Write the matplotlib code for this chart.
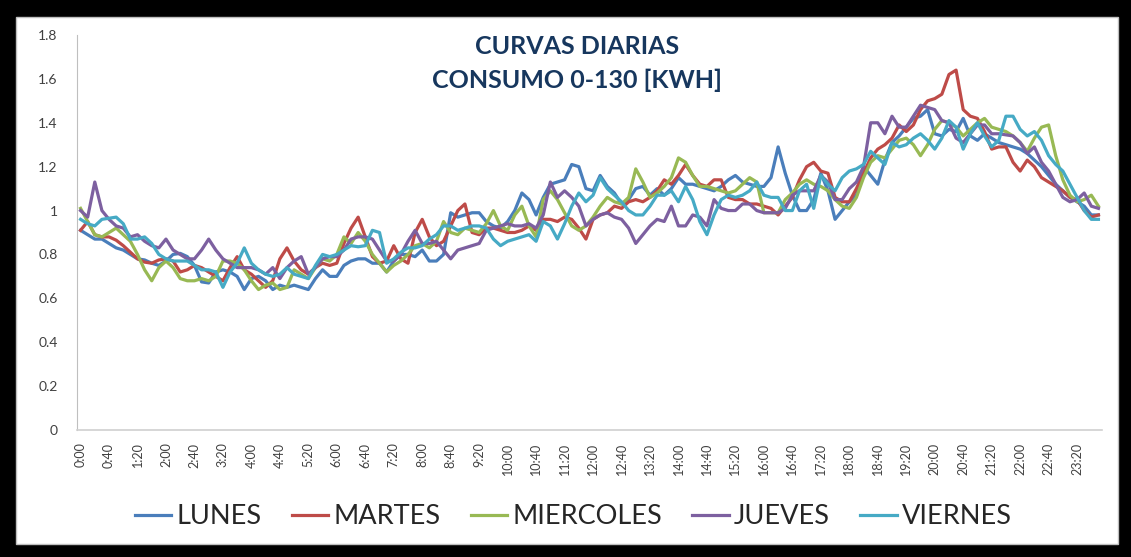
import matplotlib
matplotlib.use('Agg')
import matplotlib.pyplot as plt
from matplotlib.patches import Rectangle
import numpy as np

# Consumo cada 10 minutos (0:00 ... 23:50)
lunes = [0.91, 0.89, 0.87, 0.87, 0.85, 0.83, 0.82, 0.80, 0.78, 0.775, 0.76, 0.75, 0.77, 0.80, 0.805, 0.79, 0.75, 0.675, 0.67, 0.72, 0.73, 0.72, 0.70, 0.64, 0.69, 0.70, 0.68, 0.64, 0.66,
         0.65, 0.66, 0.65, 0.64, 0.69, 0.73, 0.70, 0.70, 0.75, 0.77, 0.78, 0.78, 0.76, 0.76, 0.72, 0.77, 0.80, 0.80, 0.79, 0.82, 0.77, 0.77, 0.80, 0.99, 0.97, 0.98, 0.99, 0.99, 0.95,
         0.93, 0.92, 0.95, 1.00, 1.08, 1.05, 0.98, 1.06, 1.12, 1.13, 1.14, 1.21, 1.20, 1.10, 1.09, 1.16, 1.11, 1.08, 1.03, 1.05, 1.10, 1.11, 1.07, 1.10, 1.07, 1.10, 1.15, 1.12, 1.12,
         1.11, 1.10, 1.09, 1.11, 1.14, 1.16, 1.13, 1.12, 1.11, 1.11, 1.15, 1.29, 1.17, 1.07, 1.00, 1.00, 1.05, 1.17, 1.09, 0.96, 1.00, 1.04, 1.07, 1.20, 1.16, 1.12, 1.23, 1.31, 1.34,
         1.38, 1.42, 1.43, 1.46, 1.35, 1.34, 1.37, 1.36, 1.42, 1.34, 1.32, 1.35, 1.33, 1.31, 1.30, 1.29, 1.28, 1.26, 1.23, 1.20, 1.16, 1.12, 1.09, 1.06, 1.04, 1.02, 0.98, 0.98]

martes = [0.91, 0.95, 0.89, 0.88, 0.88, 0.865, 0.84, 0.81, 0.78, 0.765, 0.76, 0.775, 0.78, 0.77, 0.72, 0.73, 0.75, 0.74, 0.72, 0.70, 0.68, 0.74, 0.79, 0.73, 0.71, 0.68, 0.65, 0.68, 0.78,
          0.83, 0.77, 0.73, 0.71, 0.74, 0.76, 0.75, 0.76, 0.85, 0.92, 0.97, 0.88, 0.79, 0.76, 0.77, 0.84, 0.78, 0.76, 0.90, 0.96, 0.88, 0.84, 0.86, 0.93, 1.00, 1.03, 0.90, 0.89, 0.92,
          0.92, 0.91, 0.90, 0.90, 0.91, 0.93, 0.91, 0.96, 0.96, 0.95, 0.97, 0.96, 0.92, 0.87, 0.96, 0.98, 0.99, 1.02, 1.01, 1.04, 1.05, 1.04, 1.06, 1.09, 1.14, 1.12, 1.16, 1.21, 1.16,
          1.12, 1.11, 1.14, 1.14, 1.06, 1.05, 1.05, 1.03, 1.03, 1.02, 1.01, 0.98, 1.02, 1.06, 1.14, 1.20, 1.22, 1.18, 1.17, 1.06, 1.04, 1.04, 1.10, 1.17, 1.24, 1.28, 1.30, 1.33, 1.39,
          1.36, 1.39, 1.46, 1.50, 1.51, 1.53, 1.62, 1.64, 1.46, 1.43, 1.42, 1.36, 1.28, 1.29, 1.29, 1.22, 1.18, 1.23, 1.20, 1.15, 1.13, 1.11, 1.09, 1.06, 1.05, 1.00, 0.97, 0.98]

miercoles = [1.01, 0.95, 0.89, 0.88, 0.90, 0.92, 0.89, 0.86, 0.80, 0.73, 0.68, 0.74, 0.77, 0.74, 0.69, 0.68, 0.68, 0.69, 0.68, 0.70, 0.77, 0.77, 0.76, 0.73, 0.68, 0.64, 0.66, 0.67, 0.64,
             0.65, 0.73, 0.71, 0.69, 0.74, 0.78, 0.77, 0.80, 0.88, 0.85, 0.90, 0.86, 0.80, 0.76, 0.72, 0.75, 0.77, 0.80, 0.84, 0.85, 0.83, 0.86, 0.95, 0.90, 0.89, 0.92, 0.91, 0.90, 0.94,
             1.00, 0.93, 0.91, 0.98, 1.02, 0.93, 0.88, 1.05, 1.09, 1.05, 0.99, 0.93, 0.91, 0.93, 0.97, 1.02, 1.06, 1.04, 1.03, 1.06, 1.19, 1.13, 1.06, 1.08, 1.11, 1.15, 1.24, 1.22, 1.16,
             1.11, 1.11, 1.10, 1.09, 1.08, 1.09, 1.12, 1.15, 1.13, 0.99, 0.99, 0.99, 1.05, 1.08, 1.12, 1.14, 1.12, 1.11, 1.09, 1.05, 1.02, 1.01, 1.06, 1.15, 1.22, 1.25, 1.24, 1.28, 1.32,
             1.33, 1.30, 1.25, 1.30, 1.37, 1.41, 1.40, 1.38, 1.34, 1.37, 1.40, 1.42, 1.38, 1.37, 1.36, 1.34, 1.31, 1.27, 1.33, 1.38, 1.39, 1.25, 1.14, 1.07, 1.04, 1.05, 1.07, 1.02]

jueves = [1.00, 0.97, 1.13, 1.00, 0.96, 0.93, 0.92, 0.88, 0.89, 0.86, 0.84, 0.83, 0.87, 0.82, 0.80, 0.78, 0.78, 0.82, 0.87, 0.82, 0.78, 0.76, 0.74, 0.74, 0.74, 0.73, 0.71, 0.74, 0.69,
          0.74, 0.77, 0.79, 0.71, 0.74, 0.78, 0.79, 0.79, 0.82, 0.87, 0.88, 0.88, 0.87, 0.82, 0.77, 0.77, 0.80, 0.86, 0.91, 0.85, 0.85, 0.86, 0.82, 0.78, 0.82, 0.83, 0.84, 0.85, 0.91,
          0.92, 0.93, 0.94, 0.93, 0.93, 0.94, 0.92, 0.98, 1.13, 1.06, 1.09, 1.06, 1.02, 0.93, 0.96, 0.98, 0.99, 0.97, 0.96, 0.92, 0.85, 0.89, 0.93, 0.96, 0.95, 1.02, 0.93, 0.93, 0.98,
          0.97, 0.93, 1.05, 1.01, 1.00, 1.00, 1.03, 1.03, 1.00, 0.99, 0.99, 0.99, 1.01, 1.07, 1.09, 1.09, 1.09, 1.16, 1.13, 1.05, 1.05, 1.10, 1.13, 1.20, 1.40, 1.40, 1.35, 1.43, 1.38,
          1.38, 1.43, 1.48, 1.47, 1.46, 1.41, 1.40, 1.33, 1.31, 1.35, 1.39, 1.39, 1.35, 1.35, 1.345, 1.34, 1.31, 1.26, 1.29, 1.22, 1.18, 1.12, 1.06, 1.04, 1.05, 1.08, 1.02, 1.01]

viernes = [0.96, 0.94, 0.93, 0.96, 0.965, 0.97, 0.94, 0.87, 0.87, 0.88, 0.85, 0.80, 0.78, 0.77, 0.77, 0.77, 0.75, 0.73, 0.73, 0.72, 0.65, 0.72, 0.76, 0.83, 0.76, 0.73, 0.71, 0.70, 0.71,
           0.74, 0.71, 0.70, 0.69, 0.75, 0.80, 0.79, 0.80, 0.82, 0.84, 0.835, 0.84, 0.91, 0.90, 0.76, 0.78, 0.81, 0.83, 0.83, 0.84, 0.87, 0.89, 0.93, 0.93, 0.91, 0.92, 0.93, 0.93, 0.92,
           0.87, 0.84, 0.86, 0.87, 0.88, 0.89, 0.86, 0.95, 0.93, 0.87, 0.94, 1.02, 1.08, 1.04, 1.07, 1.15, 1.10, 1.07, 1.04, 1.00, 0.98, 0.98, 1.02, 1.07, 1.07, 1.09, 1.04, 1.11, 1.05,
           0.95, 0.89, 0.98, 1.05, 1.07, 1.06, 1.07, 1.09, 1.13, 1.07, 1.06, 1.06, 1.00, 1.00, 1.09, 1.12, 1.01, 1.16, 1.12, 1.09, 1.15, 1.18, 1.19, 1.21, 1.27, 1.24, 1.21, 1.31, 1.29,
           1.30, 1.33, 1.35, 1.32, 1.28, 1.33, 1.41, 1.38, 1.28, 1.35, 1.40, 1.34, 1.29, 1.32, 1.43, 1.43, 1.37, 1.34, 1.36, 1.32, 1.25, 1.21, 1.18, 1.12, 1.06, 1.00, 0.96, 0.96]

dias = ['LUNES', 'MARTES', 'MIERCOLES', 'JUEVES', 'VIERNES']
colores = ['#4A7EBB', '#BE4B48', '#98B954', '#7D60A0', '#46AAC5']
series = [lunes, martes, miercoles, jueves, viernes]

# etiquetas de hora cada 10 min, se muestra una de cada 4
horas = ['%d:%02d' % (h, m) for h in range(24) for m in range(0, 60, 10)]

fig = plt.figure(figsize=(11.31, 5.57), dpi=100)
fig.patch.set_facecolor('black')
# panel blanco dentro del marco negro
fig.patches.append(Rectangle((16 / 1131, 1 - 544 / 557), 1102 / 1131, 527 / 557,
                             transform=fig.transFigure, facecolor='white',
                             edgecolor='#BFBFBF', linewidth=1.0, zorder=-5))

ax = fig.add_axes([77 / 1131, 1 - 430 / 557, 1025 / 1131, 395 / 557])
ax.set_zorder(2)
ax.patch.set_alpha(0)

for nombre, valores, color in zip(dias, series, colores):
    ax.plot(np.arange(len(valores)), valores, color=color, linewidth=2.3,
            label=nombre, solid_joinstyle='round')

ax.set_xlim(-0.5, len(horas) - 0.5)
ax.set_ylim(0, 1.8)
ax.set_yticks(np.arange(0, 1.81, 0.2))
ax.set_yticklabels(['0', '0.2', '0.4', '0.6', '0.8', '1', '1.2', '1.4', '1.6', '1.8'],
                   fontsize=10, color='#404040', family='Lato')
ax.set_xticks(np.arange(0, len(horas), 4))
ax.set_xticklabels(horas[::4], rotation=90, fontsize=9, color='#404040', family='Lato')
ax.tick_params(axis='y', length=0, pad=14)
ax.tick_params(axis='x', length=0, pad=9)

for lado in ['top', 'right']:
    ax.spines[lado].set_visible(False)
ax.spines['left'].set_color('#BFBFBF')
ax.spines['bottom'].set_color('#D0D0D0')
ax.spines['bottom'].set_linewidth(1.2)

fig.text(0.51, 1 - 47 / 557, 'CURVAS DIARIAS', ha='center', va='center',
         fontsize=18, fontweight='bold', color='#17375E', family='Lato', zorder=3)
fig.text(0.51, 1 - 80 / 557, 'CONSUMO 0-130 [KWH]', ha='center', va='center',
         fontsize=18, fontweight='bold', color='#17375E', family='Lato', zorder=3)

leg = fig.legend(loc='center', bbox_to_anchor=(0.507, 1 - 517 / 557), ncol=5,
                 frameon=False, handlelength=1.35, handletextpad=0.2,
                 columnspacing=1.1, prop={'family': 'Lato', 'size': 19.5})
for t in leg.get_texts():
    t.set_color('#262626')

fig.savefig('out.png', dpi=100, facecolor=fig.get_facecolor())
